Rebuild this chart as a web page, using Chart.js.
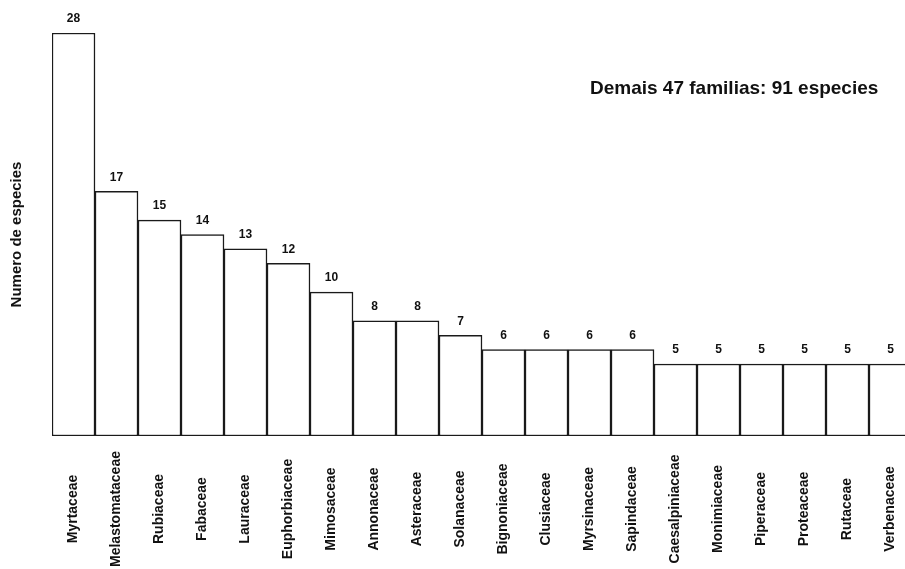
<!DOCTYPE html>
<html>
<head>
<meta charset="utf-8">
<script src="https://cdn.jsdelivr.net/npm/chart.js@4.4.0/dist/chart.umd.min.js"></script>
<style>
  html, body { margin: 0; padding: 0; background: #fff; overflow: hidden; width: 905px; height: 569px; }
  #wrap { width: 920px; height: 569px; }
</style>
</head>
<body>
<div id="wrap"><canvas id="myChart" width="920" height="569"></canvas></div>
<script>
const families = ['Myrtaceae', 'Melastomataceae', 'Rubiaceae', 'Fabaceae', 'Lauraceae',
    'Euphorbiaceae', 'Mimosaceae', 'Annonaceae', 'Asteraceae', 'Solanaceae',
    'Bignoniaceae', 'Clusiaceae', 'Myrsinaceae', 'Sapindaceae', 'Caesalpiniaceae',
    'Monimiaceae', 'Piperaceae', 'Proteaceae', 'Rutaceae', 'Verbenaceae'];
const species = [28, 17, 15, 14, 13, 12, 10, 8, 8, 7, 6, 6, 6, 6, 5, 5, 5, 5, 5, 5];
const yTitle = 'Numero de especies';
const note = 'Demais 47 familias: 91 especies';

const fontFam = '"Liberation Sans", Arial, Helvetica, sans-serif';

// value labels on top of bars, rotated family names, and the note
const labelsPlugin = {
    id: 'labelsPlugin',
    afterDatasetsDraw(chart) {
        const ctx = chart.ctx;
        const meta = chart.getDatasetMeta(0);
        const xs = chart.scales.x;
        ctx.save();
        ctx.fillStyle = '#111';
        ctx.font = 'bold 12px ' + fontFam;
        ctx.textAlign = 'center';
        ctx.textBaseline = 'bottom';
        meta.data.forEach((bar, i) => {
            ctx.fillText(String(species[i]), bar.x, bar.y - 8);
        });

        ctx.font = 'bold 14px ' + fontFam;
        ctx.textAlign = 'center';
        ctx.textBaseline = 'middle';
        const midY = chart.chartArea.bottom + 73;
        families.forEach((f, i) => {
            const x = xs.getPixelForValue(i);
            ctx.save();
            ctx.translate(x, midY);
            ctx.rotate(-Math.PI / 2);
            ctx.fillText(f, 0, 0);
            ctx.restore();
        });

        ctx.font = 'bold 19px ' + fontFam;
        ctx.textAlign = 'left';
        ctx.textBaseline = 'middle';
        ctx.fillText(note, 590, 89);
        ctx.restore();
    }
};

document.addEventListener('DOMContentLoaded', function () {
    const ctx = document.getElementById('myChart').getContext('2d');
    new Chart(ctx, {
        type: 'bar',
        data: {
            labels: families,
            datasets: [{
                data: species,
                backgroundColor: '#ffffff',
                borderColor: '#1a1a1a',
                borderWidth: 1.5,
                borderSkipped: false,
                categoryPercentage: 1.0,
                barPercentage: 1.0
            }]
        },
        options: {
            responsive: false,
            animation: false,
            layout: { padding: { left: 4, right: 8, top: 33, bottom: 133 } },
            plugins: {
                legend: { display: false },
                tooltip: { enabled: false }
            },
            scales: {
                x: {
                    display: false
                },
                y: {
                    min: 0,
                    max: 28,
                    grid: { display: false },
                    border: { display: false },
                    ticks: { display: false },
                    title: {
                        display: true,
                        text: yTitle,
                        color: '#111',
                        font: { family: fontFam, size: 15, weight: 'bold' },
                        padding: { top: 4, bottom: 4 }
                    },
                    afterFit(scale) { scale.width = 48; }
                }
            }
        },
        plugins: [labelsPlugin]
    });
});
</script>
</body>
</html>
